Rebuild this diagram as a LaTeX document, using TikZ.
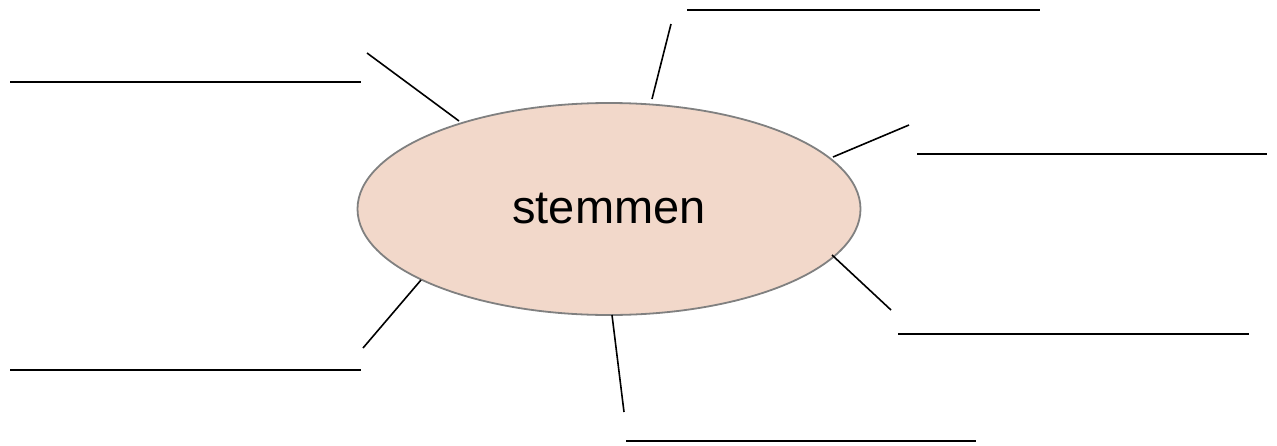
\documentclass[tikz,border=0pt]{standalone}
\usepackage{fontspec}
\setmainfont{Liberation Sans}
\usetikzlibrary{shapes.geometric}
\definecolor{peach}{HTML}{F2D8CA}
\definecolor{rimgray}{HTML}{808080}
\tikzset{
  hub/.style={ellipse, draw=rimgray, line width=1.8pt, fill=peach, minimum width=503pt, minimum height=212pt, inner sep=0pt, font=\fontsize{47}{56}\selectfont},
  spoke/.style={draw=black, line width=1.6pt},
  blank/.style={draw=black, line width=1.6pt}
}
\begin{document}
\begin{tikzpicture}[x=1pt,y=-1pt]
\useasboundingbox (0,0) rectangle (1277,445);
\node[hub] (e) at (609,209) {stemmen};
% spokes
\coordinate (s1a) at (459,121); \coordinate (s1b) at (367,53);
\coordinate (s2a) at (652,99);  \coordinate (s2b) at (671,24);
\coordinate (s3a) at (833,157); \coordinate (s3b) at (909,125);
\coordinate (s4a) at (832,255); \coordinate (s4b) at (891,310);
\coordinate (s5a) at (612,315); \coordinate (s5b) at (624,412);
\coordinate (s6a) at (421,280); \coordinate (s6b) at (363,348);
\draw[spoke] (s1a) -- (s1b);
\draw[spoke] (s2a) -- (s2b);
\draw[spoke] (s3a) -- (s3b);
\draw[spoke] (s4a) -- (s4b);
\draw[spoke] (s5a) -- (s5b);
\draw[spoke] (s6a) -- (s6b);
% answer lines
\coordinate (b1a) at (10,82);   \coordinate (b1b) at (361,82);
\coordinate (b2a) at (687,10);  \coordinate (b2b) at (1040,10);
\coordinate (b3a) at (917,154); \coordinate (b3b) at (1267,154);
\coordinate (b4a) at (898,334); \coordinate (b4b) at (1249,334);
\coordinate (b5a) at (626,441); \coordinate (b5b) at (976,441);
\coordinate (b6a) at (10,370);  \coordinate (b6b) at (361,370);
\draw[blank] (b1a) -- (b1b);
\draw[blank] (b2a) -- (b2b);
\draw[blank] (b3a) -- (b3b);
\draw[blank] (b4a) -- (b4b);
\draw[blank] (b5a) -- (b5b);
\draw[blank] (b6a) -- (b6b);
\end{tikzpicture}
\end{document}
